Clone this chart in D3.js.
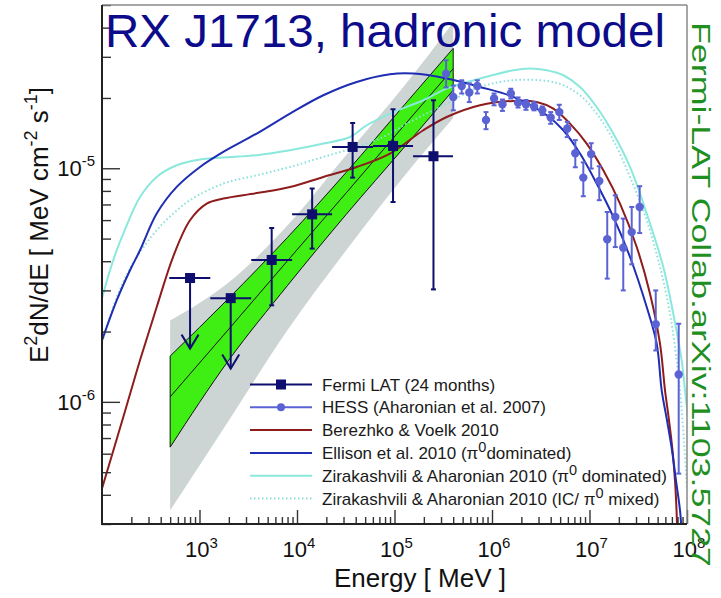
<!DOCTYPE html>
<html><head><meta charset="utf-8">
<script src="https://cdn.jsdelivr.net/npm/d3@7"></script>
<style>body{margin:0;background:#fff} svg{display:block;font-family:"Liberation Sans",Arial,Helvetica,sans-serif}</style>
</head><body><svg id="c" width="721" height="598"></svg>
<script>
// ---------- data ----------
const xTicksMajor = [1e3, 1e4, 1e5, 1e6, 1e7, 1e8];
const xTickExp = ["3", "4", "5", "6", "7", "8"];
const yTicksMajor = [1e-6, 1e-5];
const yTickExp = ["-6", "-5"];

// Fermi LAT (24 months)
const fermiE   = [800, 2090, 5500, 14300, 37200, 96600, 251000];
const fermiElo = [490, 1290, 3390, 8910, 22900, 60300, 155000];
const fermiEhi = [1290, 3390, 8910, 22900, 60300, 155000, 398000];
const fermiF   = [3.39e-6, 2.78e-6, 4.05e-6, 6.35e-6, 1.234e-5, 1.246e-5, 1.126e-5];
const fermiFlo = [1.69e-6, 1.39e-6, 2.59e-6, 4.53e-6, 9.12e-6, 7.17e-6, 3.03e-6];
const fermiFhi = [3.39e-6, 2.78e-6, 5.55e-6, 8.19e-6, 1.563e-5, 1.789e-5, 1.955e-5];
const fermiUL  = [true, true, false, false, false, false, false];

// HESS (Aharonian et al. 2007)
const hessE   = [3.38e5, 4.01e5, 4.89e5, 5.85e5, 7.07e5, 8.68e5, 1.05e6, 1.28e6, 1.56e6, 1.85e6, 2.23e6, 2.70e6, 3.28e6, 4.00e6, 4.90e6, 5.92e6, 7.15e6, 8.64e6, 1.04e7, 1.26e7, 1.52e7, 1.84e7, 2.22e7, 2.71e7, 3.27e7, 4.78e7, 8.22e7];
const hessF   = [2.54e-5, 2.02e-5, 2.25e-5, 2.11e-5, 2.25e-5, 1.61e-5, 1.99e-5, 1.88e-5, 2.09e-5, 1.91e-5, 1.88e-5, 1.84e-5, 1.77e-5, 1.65e-5, 1.74e-5, 1.48e-5, 1.16e-5, 9.12e-6, 1.15e-5, 8.82e-6, 4.97e-6, 6.19e-6, 4.57e-6, 5.33e-6, 6.83e-6, 2.15e-6, 1.31e-6];
const hessFlo = [2.22e-5, 1.77e-5, 2.09e-5, 1.92e-5, 2.09e-5, 1.47e-5, 1.86e-5, 1.76e-5, 1.99e-5, 1.82e-5, 1.78e-5, 1.77e-5, 1.69e-5, 1.55e-5, 1.61e-5, 1.36e-5, 1.01e-5, 7.59e-6, 9.97e-6, 7.30e-6, 3.37e-6, 4.60e-6, 3.00e-6, 3.88e-6, 5.28e-6, 1.66e-6, 4.93e-7];
const hessFhi = [2.90e-5, 2.26e-5, 2.38e-5, 2.31e-5, 2.38e-5, 1.74e-5, 2.09e-5, 1.97e-5, 2.19e-5, 2.01e-5, 1.96e-5, 1.92e-5, 1.84e-5, 1.74e-5, 1.87e-5, 1.58e-5, 1.32e-5, 1.06e-5, 1.28e-5, 1.02e-5, 6.50e-6, 7.66e-6, 6.09e-6, 6.83e-6, 8.38e-6, 3.00e-6, 2.16e-6];

// Fermi fit band (statistical = green, systematic = gray)
const bandE   = [500, 2000, 8000, 32000, 128000, 400000];
const fitMid  = [1.05e-6, 2.05e-6, 4.02e-6, 7.85e-6, 1.54e-5, 2.67e-5];
const greenHi = [1.57e-6, 2.78e-6, 5.06e-6, 9.61e-6, 1.88e-5, 3.26e-5];
const greenLo = [6.4e-7, 1.51e-6, 3.15e-6, 6.35e-6, 1.24e-5, 2.16e-5];
const grayHi  = [2.23e-6, 3.25e-6, 5.70e-6, 1.14e-5, 2.27e-5, 4.22e-5];
const grayLo  = [3.43e-7, 8.33e-7, 2.03e-6, 4.46e-6, 9.33e-6, 1.64e-5];

// Models
const ellisonE = [100, 141.5, 193.8, 245.3, 364, 584, 1012, 1754, 3862, 8478, 18610, 40960, 89900, 155900, 343100, 753300, 1.654e6, 3.64e6, 5.39e6, 7.99e6, 1.185e7, 1.754e7, 2.603e7, 3.862e7, 4.89e7, 5.50e7, 6.235e7, 7.02e7, 7.71e7, 8.48e7, 8.9e7];
const ellisonF = [1.834e-6, 2.72e-6, 3.66e-6, 4.455e-6, 6.40e-6, 8.32e-6, 1.013e-5, 1.175e-5, 1.408e-5, 1.715e-5, 2.054e-5, 2.342e-5, 2.527e-5, 2.544e-5, 2.422e-5, 2.229e-5, 2.02e-5, 1.687e-5, 1.455e-5, 1.156e-5, 8.60e-6, 6.19e-6, 4.17e-6, 2.547e-6, 1.776e-6, 1.12e-6, 8.33e-7, 6.20e-7, 4.61e-7, 3.43e-7, 2.6e-7];

const berezhkoE = [100, 165.4, 245.3, 364, 538.6, 799, 1185, 1754, 3862, 8478, 18610, 40960, 89900, 197500, 343100, 753300, 1.654e6, 2.873e6, 4.254e6, 6.31e6, 9.36e6, 1.385e7, 2.055e7, 3.05e7, 4.174e7, 5.285e7, 5.95e7, 6.54e7, 7.10e7, 7.53e7, 7.81e7, 7.95e7];
const berezhkoF = [4.26e-7, 8.61e-7, 1.506e-6, 2.547e-6, 4.20e-6, 5.99e-6, 7.06e-6, 7.42e-6, 7.83e-6, 8.32e-6, 9.18e-6, 1.013e-5, 1.156e-5, 1.455e-5, 1.658e-5, 1.862e-5, 1.942e-5, 1.922e-5, 1.80e-5, 1.553e-5, 1.276e-5, 9.80e-6, 7.06e-6, 4.60e-6, 2.906e-6, 1.776e-6, 1.12e-6, 8.33e-7, 6.20e-7, 4.61e-7, 3.43e-7, 2.7e-7];

const zirE = [100, 120.8, 141.5, 165.4, 245.3, 364, 584, 1012, 1754, 3862, 8478, 18610, 34970, 51870, 89900, 197500, 343100, 753300, 1.654e6, 2.453e6, 3.64e6, 5.39e6, 7.99e6, 1.185e7, 1.754e7, 2.603e7, 3.862e7, 5.714e7, 7.23e7, 8.82e7, 9.54e7, 1.05e8];
const zirF = [2.775e-6, 3.66e-6, 4.455e-6, 5.25e-6, 7.53e-6, 9.18e-6, 1.03e-5, 1.09e-5, 1.111e-5, 1.137e-5, 1.194e-5, 1.276e-5, 1.361e-5, 1.528e-5, 1.715e-5, 1.955e-5, 2.194e-5, 2.422e-5, 2.629e-5, 2.673e-5, 2.629e-5, 2.502e-5, 2.229e-5, 1.83e-5, 1.408e-5, 1.013e-5, 6.40e-6, 3.78e-6, 2.385e-6, 1.506e-6, 1.12e-6, 7.8e-7];

const zirMixE = [100, 141.5, 193.8, 245.3, 364, 538.6, 799, 1754, 3862, 8478, 18610, 40960, 76770, 133400, 292900, 753300, 1.654e6, 3.64e6, 5.39e6, 7.99e6, 1.185e7, 1.754e7, 2.603e7, 3.862e7, 5.285e7, 6.69e7, 7.84e7, 8.48e7, 9.31e7, 1.0e8];
const zirMixF = [1.80e-6, 2.80e-6, 3.73e-6, 4.37e-6, 5.43e-6, 6.40e-6, 7.30e-6, 8.60e-6, 9.33e-6, 1.013e-5, 1.118e-5, 1.234e-5, 1.361e-5, 1.553e-5, 1.83e-5, 2.229e-5, 2.381e-5, 2.365e-5, 2.267e-5, 2.054e-5, 1.715e-5, 1.318e-5, 9.18e-6, 5.99e-6, 3.78e-6, 2.385e-6, 1.506e-6, 1.12e-6, 6.84e-7, 4.18e-7];

const legendLabels = [
  ["Fermi LAT (24 months)"],
  ["HESS (Aharonian et al. 2007)"],
  ["Berezhko & Voelk 2010"],
  ["Ellison et al. 2010 (π", "0", "dominated)"],
  ["Zirakashvili & Aharonian 2010 (π", "0", " dominated)"],
  ["Zirakashvili & Aharonian 2010 (IC/ π", "0", " mixed)"]
];

// ---------- colours ----------
const C = {
  fermi: "#0e0e6e", hess: "#5b63d4", berezhko: "#8e1c1c", ellison: "#1e2db2",
  zir: "#8ae8dc", zirMix: "#8ae0dc", green: "#3fee12", gray: "#cdd4d4",
  title: "#0c0c8a", right: "#1f8f1f"
};

// ---------- scales ----------
const L = 102, R = 687, T = 5, B = 524;
const x = d3.scaleLog().domain([100, 1e8]).range([L, R]);
const y = d3.scaleLog().domain([3e-7, 5e-5]).range([B, T]);

const svg = d3.select("#c");
svg.append("defs").append("clipPath").attr("id", "clip")
  .append("rect").attr("x", L).attr("y", T).attr("width", R - L).attr("height", B - T);
const plot = svg.append("g").attr("clip-path", "url(#clip)");

const zip = (a, b) => a.map((v, i) => [v, b[i]]);

// bands
const area = (lo, hi) => d3.area().x((d, i) => x(bandE[i])).y0((d, i) => y(lo[i])).y1((d, i) => y(hi[i])).curve(d3.curveMonotoneX)(bandE);
plot.append("path").attr("d", area(grayLo, grayHi)).attr("fill", C.gray);
plot.append("path").attr("d", area(greenLo, greenHi)).attr("fill", C.green).attr("stroke", "#111").attr("stroke-width", 1);
const bline = d3.line().x(d => x(d[0])).y(d => y(d[1])).curve(d3.curveMonotoneX);
plot.append("path").attr("d", bline(zip(bandE, fitMid))).attr("fill", "none").attr("stroke", "#111").attr("stroke-width", 1);

// model curves
const cline = d3.line().x(d => x(d[0])).y(d => y(d[1])).curve(d3.curveCatmullRom.alpha(0.5));
const curve = (E, F, col, dash) => plot.append("path").attr("d", cline(zip(E, F))).attr("fill", "none")
  .attr("stroke", col).attr("stroke-width", 2).attr("stroke-dasharray", dash || null);
curve(zirMixE, zirMixF, C.zirMix, "1.5,2.5");
curve(zirE, zirF, C.zir);
curve(berezhkoE, berezhkoF, C.berezhko);
curve(ellisonE, ellisonF, C.ellison);

// HESS points
const hg = plot.append("g").attr("stroke", C.hess).attr("fill", C.hess).attr("stroke-width", 2);
hessE.forEach((e, i) => {
  const cx = x(e);
  hg.append("line").attr("x1", cx).attr("x2", cx).attr("y1", y(hessFlo[i])).attr("y2", y(hessFhi[i]));
  [hessFlo[i], hessFhi[i]].forEach(v => hg.append("line").attr("x1", cx - 2.5).attr("x2", cx + 2.5).attr("y1", y(v)).attr("y2", y(v)));
  hg.append("circle").attr("cx", cx).attr("cy", y(hessF[i])).attr("r", 4.2).attr("stroke", "none");
});

// Fermi points
const fg = plot.append("g").attr("stroke", C.fermi).attr("fill", C.fermi).attr("stroke-width", 2);
fermiE.forEach((e, i) => {
  const cx = x(e), cy = y(fermiF[i]);
  fg.append("line").attr("x1", x(fermiElo[i])).attr("x2", x(fermiEhi[i])).attr("y1", cy).attr("y2", cy);
  if (fermiUL[i]) {
    const yt = y(fermiFlo[i]);
    fg.append("line").attr("x1", cx).attr("x2", cx).attr("y1", cy).attr("y2", yt);
    fg.append("path").attr("d", `M${cx - 8.5},${yt - 14}L${cx},${yt}L${cx + 8.5},${yt - 14}`).attr("fill", "none");
  } else {
    fg.append("line").attr("x1", cx).attr("x2", cx).attr("y1", y(fermiFlo[i])).attr("y2", y(fermiFhi[i]));
    [fermiFlo[i], fermiFhi[i]].forEach(v => fg.append("line").attr("x1", cx - 2.5).attr("x2", cx + 2.5).attr("y1", y(v)).attr("y2", y(v)));
  }
  fg.append("rect").attr("x", cx - 5).attr("y", cy - 5).attr("width", 10).attr("height", 10).attr("stroke", "none");
});

// ---------- axes ----------
const minorVals = (lo, hi) => { const out = []; for (let p = Math.floor(Math.log10(lo)); p <= Math.ceil(Math.log10(hi)); p++) for (let k = 2; k <= 9; k++) { const v = k * Math.pow(10, p); if (v >= lo * 0.999 && v <= hi * 1.001) out.push(v); } return out; };
const styleAxis = g => { g.select(".domain").remove(); g.selectAll(".tick line").attr("stroke", "#333").attr("stroke-width", 1.4); };
svg.append("g").attr("transform", `translate(${L},0)`).call(d3.axisLeft(y).tickValues(yTicksMajor).tickSize(-18).tickFormat("")).call(styleAxis);
svg.append("g").attr("transform", `translate(${L},0)`).call(d3.axisLeft(y).tickValues(minorVals(3e-7, 5e-5)).tickSize(-9).tickFormat("")).call(styleAxis);
svg.append("g").attr("transform", `translate(0,${B})`).call(d3.axisBottom(x).tickValues(xTicksMajor).tickSize(-14).tickFormat("")).call(styleAxis);
svg.append("g").attr("transform", `translate(0,${B})`).call(d3.axisBottom(x).tickValues(minorVals(100, 1e8)).tickSize(-7).tickFormat("")).call(styleAxis);

// frame
svg.append("line").attr("x1", L).attr("x2", R).attr("y1", T).attr("y2", T).attr("stroke", "#888").attr("stroke-width", 1.5);
svg.append("line").attr("x1", R).attr("x2", R).attr("y1", T).attr("y2", B).attr("stroke", "#888").attr("stroke-width", 1.5);
svg.append("line").attr("x1", L).attr("x2", L).attr("y1", T).attr("y2", B + 1).attr("stroke", "#222").attr("stroke-width", 2);
svg.append("line").attr("x1", L - 1).attr("x2", R).attr("y1", B).attr("y2", B).attr("stroke", "#222").attr("stroke-width", 2);

// tick labels
xTicksMajor.forEach((v, i) => {
  const t = svg.append("text").attr("x", x(v) + 2).attr("y", 557).attr("text-anchor", "middle").attr("font-size", 22).attr("fill", "#111");
  t.append("tspan").text("10");
  t.append("tspan").attr("dy", -9).attr("font-size", 15).text(xTickExp[i]);
});
yTicksMajor.forEach((v, i) => {
  const t = svg.append("text").attr("x", 95).attr("y", y(v) + 8).attr("text-anchor", "end").attr("font-size", 22).attr("fill", "#111");
  t.append("tspan").text("10");
  t.append("tspan").attr("dy", -10).attr("font-size", 15).text(yTickExp[i]);
});

// axis titles
svg.append("text").attr("x", 420).attr("y", 587).attr("text-anchor", "middle").attr("font-size", 26).attr("fill", "#111").text("Energy [ MeV ]");
const yl = svg.append("text").attr("transform", "translate(48,225) rotate(-90)").attr("text-anchor", "middle").attr("font-size", 26).attr("fill", "#111");
yl.append("tspan").text("E");
yl.append("tspan").attr("dy", -11).attr("font-size", 18).text("2");
yl.append("tspan").attr("dy", 11).text("dN/dE [ MeV cm");
yl.append("tspan").attr("dy", -11).attr("font-size", 18).text("-2");
yl.append("tspan").attr("dy", 11).text(" s");
yl.append("tspan").attr("dy", -11).attr("font-size", 18).text("-1");
yl.append("tspan").attr("dy", 11).text("]");

// legend
const legY0 = 384.5, legDy = 22.8;
const legStyles = [
  {c: C.fermi, m: "sq"}, {c: C.hess, m: "ci"}, {c: C.berezhko}, {c: C.ellison}, {c: C.zir}, {c: C.zirMix, dash: "1.5,2.5"}
];
legendLabels.forEach((parts, i) => {
  const ly = legY0 + i * legDy, st = legStyles[i];
  svg.append("line").attr("x1", 250).attr("x2", 312).attr("y1", ly).attr("y2", ly).attr("stroke", st.c).attr("stroke-width", 2).attr("stroke-dasharray", st.dash || null);
  if (st.m === "sq") svg.append("rect").attr("x", 276).attr("y", ly - 5).attr("width", 10).attr("height", 10).attr("fill", st.c);
  if (st.m === "ci") svg.append("circle").attr("cx", 281).attr("cy", ly).attr("r", 4).attr("fill", st.c);
  const t = svg.append("text").attr("x", 322).attr("y", ly + 6).attr("font-size", 17).attr("fill", "#1a1a1a");
  t.append("tspan").text(parts[0]);
  if (parts.length > 1) {
    t.append("tspan").attr("dy", -7).attr("font-size", 14.5).text(parts[1]);
    t.append("tspan").attr("dy", 7).text(parts[2]);
  }
});

// title
svg.append("text").attr("x", 105).attr("y", 47).attr("font-size", 46).attr("fill", C.title)
  .attr("textLength", 560).attr("lengthAdjust", "spacingAndGlyphs").text("RX J1713, hadronic model");

// right side credit
svg.append("text").attr("transform", "translate(692,22) rotate(90)").attr("font-size", 26).attr("fill", C.right)
  .attr("textLength", 545).attr("lengthAdjust", "spacingAndGlyphs").text("Fermi-LAT Collab.arXiv:1103.5727");
</script></body></html>
